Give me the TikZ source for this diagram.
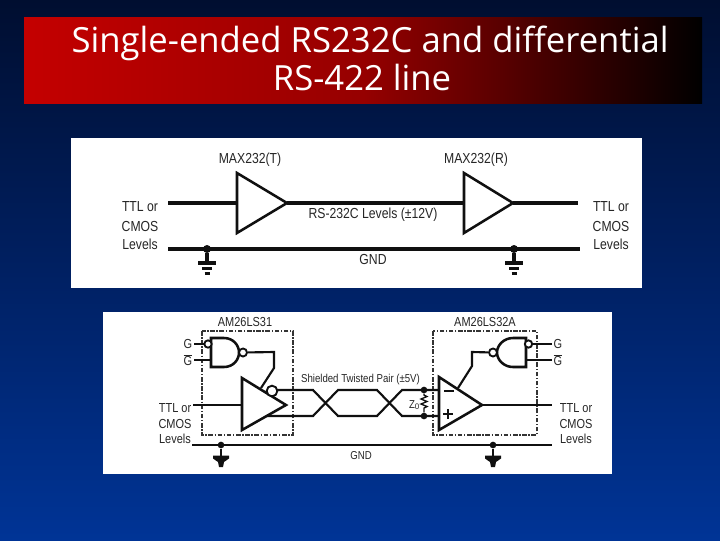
\documentclass[tikz,border=0pt]{standalone}
\usepackage{fontspec}
\setmainfont{Liberation Sans}
\newfontfamily\labelfont[FakeStretch=0.84]{Liberation Sans}
\newfontfamily\titlefont{Open Sans}
\usetikzlibrary{calc}
\definecolor{ink}{HTML}{101010}
\definecolor{labelink}{HTML}{262626}
\definecolor{skytop}{RGB}{0,14,48}
\definecolor{skymid}{RGB}{0,32,98}
\definecolor{skybot}{RGB}{0,52,150}
\definecolor{barred}{RGB}{196,0,0}
\definecolor{barmid}{RGB}{150,0,0}
\tikzset{
  wire/.style={draw=ink,line width=2.4pt},
  thinwire/.style={draw=ink,line width=1.9pt},
  pairwire/.style={draw=ink,line width=1.6pt,line join=miter},
  gate/.style={draw=ink,line width=1.9pt,fill=white,line join=miter},
  bubble/.style={circle,draw=ink,line width=1.4pt,fill=white,inner sep=0pt,minimum size=#1},
  jdot/.style={circle,fill=ink,inner sep=0pt,minimum size=6pt},
  lab/.style={text=labelink,font=\labelfont\fontsize{10.9}{13}\selectfont,inner sep=0pt},
  slab/.style={text=labelink,font=\labelfont\fontsize{9.8}{12}\selectfont,inner sep=0pt},
  xslab/.style={text=labelink,font=\labelfont\fontsize{8.6}{10}\selectfont,inner sep=0pt},
  titletext/.style={text=white,font=\titlefont\fontsize{26}{30}\selectfont,inner sep=0pt,anchor=base},
  boxline/.style={draw=ink!85,line width=0.8pt,dash pattern=on 3.5pt off 1.2pt on 1pt off 1.2pt}
}
\begin{document}
\begin{tikzpicture}[x=0.75pt,y=-0.75pt]
\useasboundingbox (0,0) rectangle (720,540);
\shade[top color=skytop,bottom color=skybot,middle color=skymid] (0,0) rectangle (720,540);
\shade[left color=barred,right color=black,middle color=barmid] (24,17) rectangle (702,103);
\node[titletext] (t1) at (370,52) {Single-ended RS232C and differential};
\node[titletext] (t2) at (362,90) {RS-422 line};

% top panel
\fill[white] (71,138) rectangle (642,288);
\coordinate (tinL) at (168,203);
\coordinate (tA) at (237,203);
\coordinate (tB) at (287,203);
\coordinate (rA) at (464,203);
\coordinate (rB) at (513,203);
\coordinate (routR) at (578,203);
\coordinate (gL) at (168,249);
\coordinate (gR) at (580,249);
\draw[wire] (tinL) -- (tA);
\draw[wire] (tB) -- (rA);
\draw[wire] (rB) -- (routR);
\draw[wire] (gL) -- (gR);
\draw[gate] (237,173) -- (237,233) -- (tB) -- cycle;
\draw[gate] (464,173) -- (464,233) -- (rB) -- cycle;
\foreach \n/\x in {g1/207,g2/514}{
  \node[jdot] (\n) at (\x,249) {};
  \coordinate (\n e) at (\x,263);
  \draw[wire] (\n) -- (\n e);
  \draw[wire] (\x-9,263) -- (\x+9,263);
  \draw[wire] (\x-5,268.5) -- (\x+5,268.5);
  \draw[wire] (\x-2.5,273.5) -- (\x+2.5,273.5);
}
\node[lab] (m1) at (250,160) {MAX232(T)};
\node[lab] (m2) at (476,160) {MAX232(R)};
\node[lab] (l1) at (140,207) {TTL or};
\node[lab] (l2) at (140,226) {CMOS};
\node[lab] (l3) at (140,244) {Levels};
\node[lab] (r1) at (611,207) {TTL or};
\node[lab] (r2) at (611,226) {CMOS};
\node[lab] (r3) at (611,244) {Levels};
\node[lab] (rs) at (373,215) {RS-232C Levels (±12V)};
\node[lab] (gnd) at (373,259) {GND};

% bottom panel
\fill[white] (103,312) rectangle (612,474);
\draw[boxline] (202,331) rectangle (293,435);
\draw[boxline] (433,331) rectangle (537,435);
\node[slab] (a1) at (245,322) {AM26LS31};
\node[slab] (a2) at (485,322) {AM26LS32A};

\coordinate (bin) at (193,405);
\coordinate (bA) at (242,405);
\coordinate (bB) at (286,405);
\coordinate (cA) at (439,405);
\coordinate (cB) at (482,405);
\coordinate (cout) at (552,405);
\draw[thinwire] (bin) -- (bA);
\draw[thinwire] (cB) -- (cout);
\coordinate (gbL) at (192,445);
\coordinate (gbR) at (552,445);
\draw[thinwire] (gbL) -- (gbR);

% twisted pair
\node[jdot,minimum size=5pt] (zt) at (424,390) {};
\node[jdot,minimum size=5pt] (zb) at (424,416) {};
\coordinate (ctop) at (439,390);
\coordinate (cbot) at (439,416);
\coordinate (ddU) at (270,390);
\coordinate (ddL) at (266,416);
\draw[pairwire] (ddU) -- (313,390) -- (338,416) -- (377,416) -- (402,390) -- (ctop);
\draw[pairwire] (ddL) -- (313,416) -- (338,390) -- (377,390) -- (402,416) -- (cbot);
\draw[draw=ink,line width=1pt] (zt) -- ++(0,5) -- ++(3,1.5) -- ++(-6,2.5) -- ++(6,2.5) -- ++(-6,2.5) -- ++(6,2.5) -- ++(-3,1.5) -- (zb);

% driver
\draw[gate] (242,378) -- (242,430) -- (bB) -- cycle;
\node[bubble=8pt] (bub) at (272,391) {};
% receiver
\draw[gate] (439,377) -- (439,430) -- (cB) -- cycle;
\draw[ink,line width=2.2pt] (444,391) -- (454,391);
\draw[ink,line width=2.2pt] (443,414) -- (453,414) (448,409) -- (448,419);

% NAND left
\coordinate (nlG) at (194,344);
\coordinate (nlH) at (194,360);
\draw[thinwire] (nlG) -- (211,344);
\draw[thinwire] (nlH) -- (211,360);
\draw[gate] (211,338) -- (224,338) .. controls (233,338) and (239,345) .. (239,352.5) .. controls (239,360) and (233,367) .. (224,367) -- (211,367) -- cycle;
\node[bubble=5.5pt] (nb1) at (208,344) {};
\node[bubble=6pt] (nb2) at (243,352.5) {};
\coordinate (k1) at (274,352);
\coordinate (k2) at (274,368);
\coordinate (k3) at (261,388);
\draw[pairwire] (nb2) -- (k1) -- (k2) -- (k3);

% NAND right
\coordinate (nrG) at (552,344);
\coordinate (nrH) at (552,360);
\draw[thinwire] (nrG) -- (526,344);
\draw[thinwire] (nrH) -- (526,360);
\draw[gate] (526,338) -- (513,338) .. controls (504,338) and (497,345) .. (497,352.5) .. controls (497,360) and (504,367) .. (513,367) -- (526,367) -- cycle;
\node[bubble=5.5pt] (nb3) at (528.5,344) {};
\node[bubble=6pt] (nb4) at (493,352.5) {};
\coordinate (k4) at (472,352);
\coordinate (k5) at (472,366);
\coordinate (k6) at (458,388);
\draw[pairwire] (nb4) -- (k4) -- (k5) -- (k6);

% grounds
\foreach \n/\x in {g3/221,g4/493}{
  \node[jdot,minimum size=5pt] (\n) at (\x,445) {};
  \coordinate (\n e) at (\x,457);
  \draw[thinwire] (\n) -- (\n e);
  \fill[ink] (\x-8,455.5) -- (\x+8,455.5) -- (\x+8,458.5) -- (\x+3,462) -- (\x+2,467) -- (\x-2,467) -- (\x-3,462) -- (\x-8,458.5) -- cycle;
}

% labels
\node[slab] (bl1) at (175,408) {TTL or};
\node[slab] (bl2) at (175,424) {CMOS};
\node[slab] (bl3) at (175,439) {Levels};
\node[slab] (br1) at (576,408) {TTL or};
\node[slab] (br2) at (576,424) {CMOS};
\node[slab] (br3) at (576,439) {Levels};
\node[xslab] (sh) at (360.5,380) {Shielded Twisted Pair (±5V)};
\node[xslab] (bg) at (361,456) {GND};
\node[xslab] (z) at (414.5,405) {Z$_{\mathrm{0}}$};
\node[slab] (g1l) at (188,344) {G};
\node[slab] (g2l) at (188,360) {$\overline{\mbox{G}}$};
\node[slab] (g3l) at (558,344) {G};
\node[slab] (g4l) at (558,360) {$\overline{\mbox{G}}$};
\end{tikzpicture}
\end{document}
